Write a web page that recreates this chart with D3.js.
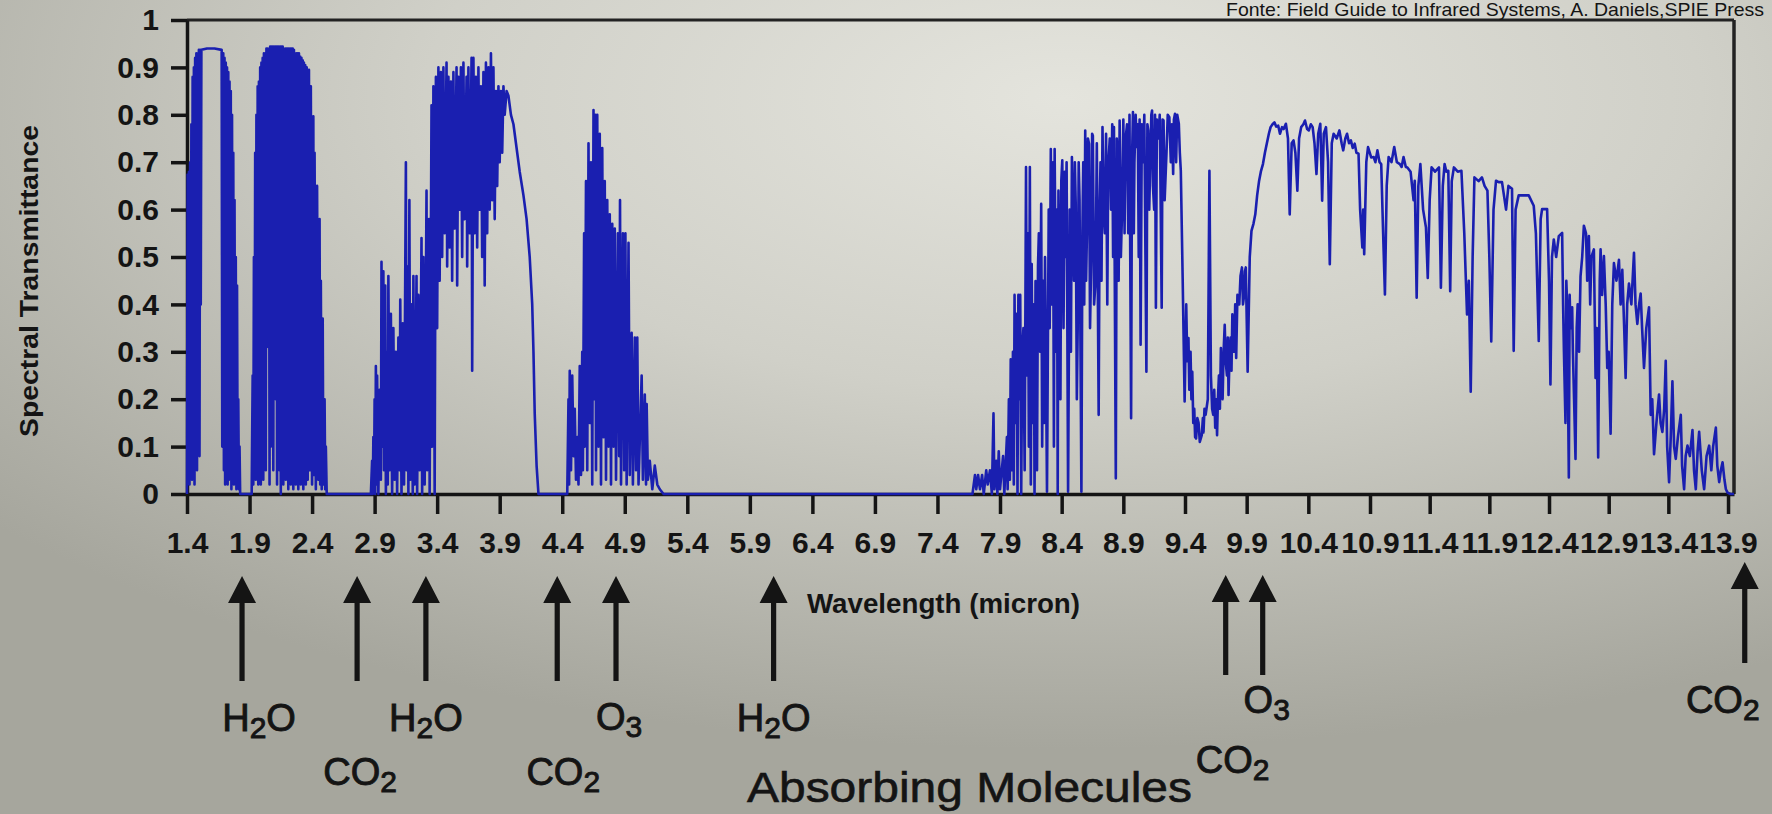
<!DOCTYPE html>
<html><head><meta charset="utf-8">
<script src="https://cdn.jsdelivr.net/npm/d3@7"></script>
<style>html,body{margin:0;padding:0;background:#c6c6be;} svg{display:block;}</style>
</head><body>
<svg id="chart" width="1772" height="814"></svg>
<script>
// ---------------- DATA (wavelength in micron, spectral transmittance) ----------------
const band1 = [[1.40,0],[1.405,0.674],[1.41,0.05],[1.415,0.68],[1.42,0.02],[1.425,0.70],[1.43,0.08],[1.435,0.78],[1.44,0.03],[1.445,0.88],[1.45,0.10],[1.455,0.90],[1.46,0.02],[1.465,0.92],[1.47,0.15],[1.475,0.93],[1.48,0.05],[1.485,0.93],[1.49,0.30],[1.495,0.937],[1.50,0.08],[1.505,0.937],[1.51,0.40],[1.515,0.937],[1.56,0.94],[1.62,0.94],[1.677,0.937],[1.682,0.10],[1.69,0.93],[1.695,0.05],[1.70,0.92],[1.705,0.02],[1.71,0.91],[1.715,0.08],[1.72,0.90],[1.725,0.02],[1.73,0.89],[1.735,0.03],[1.74,0.87],[1.745,0.05],[1.75,0.85],[1.755,0.01],[1.76,0.80],[1.765,0.04],[1.77,0.72],[1.775,0.02],[1.78,0.62],[1.785,0.03],[1.79,0.50],[1.795,0.01],[1.80,0.44],[1.805,0.02],[1.81,0.20],[1.815,0.01],[1.82,0.10],[1.825,0]];

const band2 = [[1.917,0],[1.925,0.25],[1.93,0.02],[1.935,0.50],[1.94,0.05],[1.945,0.72],[1.95,0.03],[1.955,0.80],[1.96,0.10],[1.965,0.86],[1.97,0.02],[1.975,0.87],[1.98,0.08],[1.985,0.90],[1.99,0.02],[1.995,0.91],[2.00,0.10],[2.005,0.92],[2.01,0.03],[2.015,0.93],[2.02,0.30],[2.025,0.93],[2.03,0.05],[2.035,0.94],[2.04,0.59],[2.045,0.94],[2.05,0.31],[2.055,0.94],[2.06,0.02],[2.065,0.944],[2.07,0.10],[2.075,0.944],[2.08,0.46],[2.085,0.944],[2.09,0.05],[2.095,0.944],[2.10,0.46],[2.105,0.944],[2.11,0.20],[2.115,0.944],[2.12,0.02],[2.125,0.944],[2.13,0.40],[2.135,0.944],[2.14,0.05],[2.145,0.944],[2.15,0.0],[2.155,0.944],[2.16,0.10],[2.165,0.944],[2.17,0.02],[2.175,0.94],[2.18,0.30],[2.185,0.94],[2.19,0.03],[2.195,0.94],[2.20,0.06],[2.205,0.94],[2.21,0.01],[2.215,0.94],[2.22,0.15],[2.225,0.94],[2.23,0.02],[2.235,0.94],[2.24,0.05],[2.245,0.94],[2.25,0.01],[2.255,0.937],[2.26,0.08],[2.265,0.93],[2.27,0.02],[2.275,0.93],[2.28,0.04],[2.285,0.93],[2.29,0.01],[2.295,0.93],[2.30,0.05],[2.305,0.923],[2.31,0.02],[2.315,0.92],[2.32,0.06],[2.325,0.915],[2.33,0.01],[2.335,0.91],[2.34,0.04],[2.345,0.905],[2.35,0.02],[2.357,0.90],[2.365,0.03],[2.375,0.895],[2.383,0.05],[2.39,0.86],[2.40,0.02],[2.41,0.797],[2.415,0.04],[2.42,0.72],[2.43,0.01],[2.44,0.65],[2.45,0.03],[2.46,0.58],[2.465,0.02],[2.47,0.45],[2.477,0.01],[2.485,0.37],[2.49,0.02],[2.50,0.20],[2.505,0.01],[2.51,0.10],[2.517,0]];

const band3 = [[2.87,0],[2.88,0.07],[2.885,0.0],[2.89,0.12],[2.895,0.01],[2.90,0.20],[2.905,0.0],[2.91,0.27],[2.915,0.02],[2.92,0.25],[2.93,0.0],[2.94,0.22],[2.95,0.03],[2.955,0.49],[2.96,0.10],[2.97,0.47],[2.975,0.05],[2.985,0.44],[2.99,0.0],[3.00,0.30],[3.005,0.02],[3.01,0.46],[3.02,0.05],[3.03,0.38],[3.04,0.0],[3.05,0.35],[3.06,0.03],[3.07,0.30],[3.08,0.0],[3.09,0.33],[3.10,0.05],[3.105,0.41],[3.115,0.0],[3.125,0.36],[3.135,0.02],[3.15,0.70],[3.155,0.05],[3.165,0.48],[3.17,0.0],[3.178,0.62],[3.185,0.03],[3.195,0.40],[3.205,0.0],[3.21,0.46],[3.22,0.02],[3.235,0.46],[3.24,0.0],[3.25,0.42],[3.26,0.05],[3.275,0.54],[3.28,0.0],[3.29,0.50],[3.30,0.02],[3.315,0.64],[3.32,0.05],[3.335,0.58],[3.34,0.0],[3.355,0.82],[3.36,0.10],[3.37,0.86],[3.38,0.0],[3.39,0.88],[3.40,0.35],[3.41,0.90],[3.42,0.45],[3.43,0.89],[3.44,0.50],[3.45,0.90],[3.46,0.55],[3.475,0.91],[3.48,0.48],[3.49,0.88],[3.50,0.52],[3.51,0.87],[3.52,0.45],[3.53,0.89],[3.54,0.56],[3.555,0.90],[3.56,0.44],[3.57,0.88],[3.58,0.60],[3.59,0.90],[3.60,0.50],[3.61,0.91],[3.62,0.58],[3.635,0.88],[3.64,0.48],[3.65,0.90],[3.66,0.55],[3.675,0.92],[3.68,0.26],[3.69,0.92],[3.70,0.55],[3.71,0.88],[3.72,0.52],[3.73,0.90],[3.74,0.60],[3.75,0.86],[3.76,0.50],[3.77,0.89],[3.78,0.44],[3.79,0.91],[3.80,0.55],[3.81,0.90],[3.82,0.60],[3.83,0.93],[3.84,0.62],[3.85,0.90],[3.86,0.58],[3.87,0.85],[3.88,0.65],[3.89,0.86],[3.90,0.70],[3.91,0.85],[3.92,0.72],[3.93,0.86],[3.94,0.80],[3.955,0.85],[3.97,0.84],[3.99,0.80],[4.01,0.78],[4.04,0.72],[4.06,0.68],[4.09,0.63],[4.115,0.58],[4.14,0.50],[4.16,0.40],[4.17,0.30],[4.18,0.17],[4.195,0.06],[4.21,0]];

const band4 = [[4.44,0],[4.45,0.20],[4.455,0.02],[4.46,0.26],[4.47,0.05],[4.48,0.25],[4.49,0.08],[4.50,0.18],[4.51,0.03],[4.52,0.12],[4.53,0.02],[4.54,0.27],[4.55,0.04],[4.56,0.30],[4.565,0.05],[4.575,0.55],[4.58,0.10],[4.59,0.66],[4.60,0.05],[4.61,0.74],[4.62,0.15],[4.63,0.70],[4.64,0.02],[4.65,0.81],[4.655,0.20],[4.665,0.80],[4.67,0.05],[4.68,0.80],[4.69,0.10],[4.70,0.76],[4.71,0.02],[4.72,0.73],[4.73,0.12],[4.74,0.66],[4.75,0.03],[4.76,0.62],[4.77,0.10],[4.78,0.59],[4.79,0.02],[4.80,0.57],[4.81,0.10],[4.82,0.56],[4.83,0.03],[4.845,0.55],[4.855,0.08],[4.862,0.62],[4.87,0.02],[4.885,0.55],[4.895,0.05],[4.905,0.55],[4.915,0.02],[4.93,0.53],[4.94,0.04],[4.955,0.34],[4.965,0.02],[4.98,0.33],[4.99,0.05],[5.00,0.33],[5.01,0.02],[5.035,0.25],[5.045,0.03],[5.06,0.21],[5.07,0.02],[5.075,0.19],[5.085,0.03],[5.10,0.07],[5.12,0.01],[5.14,0.06],[5.16,0.02],[5.18,0.01],[5.21,0]];

const band5a = [[7.60,0],[7.68,0],[7.70,0.04],[7.71,0.01],[7.725,0.04],[7.74,0.01],[7.757,0.04],[7.77,0],[7.79,0.05],[7.802,0.02],[7.82,0.05],[7.835,0],[7.848,0.17],[7.855,0.01],[7.87,0.07],[7.879,0],[7.89,0.09],[7.90,0.01],[7.925,0.08],[7.935,0],[7.956,0.12],[7.962,0.01],[7.972,0.20],[7.98,0.03],[7.987,0.284],[7.995,0.05],[8.005,0.30],[8.012,0.02],[8.018,0.42],[8.025,0.15],[8.035,0.38],[8.042,0.0],[8.049,0.42],[8.056,0.20],[8.064,0.42],[8.072,0],[8.08,0.30],[8.09,0.35],[8.10,0.05],[8.111,0.69],[8.118,0.25],[8.127,0.55],[8.134,0.10],[8.142,0.69],[8.15,0.02],[8.157,0.485],[8.165,0.15],[8.175,0.40],[8.18,0.0],[8.188,0.449],[8.20,0.05],[8.208,0.48],[8.215,0.55],[8.225,0.30],[8.234,0.612],[8.242,0.10],[8.25,0.45],[8.258,0.15],[8.265,0.50],[8.272,0.30],[8.281,0.005],[8.295,0.60],[8.303,0.35],[8.312,0.728],[8.32,0.40],[8.33,0.70],[8.337,0.10],[8.343,0.728],[8.355,0.30],[8.362,0.60],[8.368,0.0],[8.374,0.640],[8.39,0.20],[8.397,0.66],[8.405,0.704],[8.415,0.35],[8.425,0.68],[8.43,0.50],[8.44,0.70],[8.452,0.005],[8.465,0.60],[8.475,0.30],[8.483,0.711],[8.50,0.45],[8.507,0.70],[8.514,0.612],[8.523,0.20],[8.53,0.35],[8.538,0.70],[8.545,0.62],[8.560,0.005],[8.568,0.55],[8.575,0.70],[8.583,0.40],[8.591,0.767],[8.598,0.45],[8.605,0.55],[8.613,0.75],[8.622,0.739],[8.63,0.35],[8.64,0.50],[8.647,0.76],[8.653,0.756],[8.663,0.40],[8.675,0.45],[8.685,0.74],[8.700,0.167],[8.708,0.60],[8.715,0.70],[8.723,0.45],[8.731,0.774],[8.74,0.60],[8.75,0.55],[8.76,0.76],[8.77,0.40],[8.777,0.689],[8.79,0.75],[8.80,0.60],[8.81,0.78],[8.817,0.50],[8.824,0.774],[8.839,0.033],[8.847,0.75],[8.855,0.70],[8.862,0.45],[8.870,0.788],[8.88,0.50],[8.89,0.60],[8.90,0.79],[8.91,0.55],[8.917,0.746],[8.93,0.78],[8.94,0.55],[8.95,0.80],[8.963,0.160],[8.97,0.70],[8.978,0.806],[8.985,0.55],[8.99,0.70],[9.0,0.80],[9.009,0.732],[9.017,0.78],[9.025,0.50],[9.032,0.79],[9.040,0.315],[9.05,0.78],[9.06,0.70],[9.07,0.80],[9.087,0.258],[9.095,0.78],[9.102,0.767],[9.11,0.60],[9.12,0.72],[9.127,0.80],[9.133,0.809],[9.14,0.65],[9.15,0.60],[9.157,0.80],[9.164,0.393],[9.172,0.79],[9.185,0.75],[9.195,0.80],[9.203,0.60],[9.211,0.393],[9.218,0.79],[9.226,0.788],[9.235,0.62],[9.25,0.72],[9.26,0.80],[9.273,0.795],[9.285,0.70],[9.294,0.78],[9.304,0.675],[9.31,0.79],[9.319,0.802],[9.328,0.70],[9.337,0.80],[9.35,0.781],[9.358,0.72],[9.366,0.682],[9.381,0.456],[9.397,0.195],[9.41,0.40],[9.418,0.28],[9.428,0.329],[9.435,0.22],[9.445,0.30],[9.452,0.20],[9.459,0.258],[9.467,0.15],[9.475,0.18],[9.482,0.12],[9.490,0.117],[9.50,0.16],[9.51,0.15],[9.52,0.11],[9.536,0.124],[9.545,0.16],[9.55,0.13],[9.558,0.18],[9.567,0.167],[9.585,0.20],[9.598,0.682],[9.61,0.25],[9.62,0.18],[9.629,0.167],[9.637,0.22],[9.645,0.14],[9.652,0.20],[9.660,0.124],[9.667,0.20],[9.675,0.25],[9.683,0.18],[9.691,0.308],[9.698,0.22],[9.705,0.20],[9.713,0.30],[9.722,0.357],[9.73,0.28],[9.74,0.25],[9.747,0.33],[9.753,0.209],[9.762,0.30],[9.77,0.33],[9.777,0.26],[9.784,0.379],[9.792,0.30],[9.80,0.30],[9.807,0.40],[9.815,0.287],[9.825,0.42],[9.84,0.40],[9.85,0.46],[9.862,0.478],[9.87,0.40],[9.88,0.42],[9.886,0.47],[9.893,0.478],[9.908,0.258],[9.925,0.50],[9.939,0.555],[9.955,0.57],[9.970,0.590],[9.985,0.63],[10.001,0.661],[10.015,0.68],[10.032,0.696],[10.048,0.72],[10.063,0.739],[10.08,0.76],[10.094,0.774],[10.11,0.78],[10.125,0.784],[10.14,0.775],[10.156,0.777],[10.17,0.76],[10.187,0.774],[10.20,0.77],[10.218,0.781],[10.235,0.75],[10.249,0.590],[10.265,0.74],[10.280,0.746],[10.295,0.72],[10.311,0.640],[10.325,0.75],[10.342,0.774],[10.36,0.78],[10.373,0.788],[10.39,0.77],[10.404,0.767],[10.42,0.78],[10.435,0.774],[10.45,0.74],[10.466,0.675],[10.48,0.76],[10.497,0.781],[10.505,0.70],[10.512,0.619],[10.525,0.76],[10.543,0.774],[10.56,0.70],[10.574,0.485],[10.59,0.74],[10.605,0.760],[10.63,0.75],[10.652,0.767],[10.67,0.74],[10.683,0.725],[10.70,0.75],[10.714,0.760],[10.73,0.74],[10.745,0.746],[10.76,0.73],[10.776,0.739],[10.79,0.72],[10.807,0.718],[10.82,0.60],[10.838,0.520],[10.845,0.60],[10.853,0.506],[10.87,0.70],[10.884,0.732]];

const band5b = [[10.91,0.71],[10.931,0.711],[10.945,0.70],[10.962,0.725],[10.98,0.70],[10.994,0.696],[11.01,0.55],[11.025,0.421],[11.04,0.65],[11.056,0.711],[11.08,0.70],[11.103,0.732],[11.125,0.70],[11.150,0.696],[11.165,0.69],[11.181,0.711],[11.20,0.69],[11.213,0.689],[11.24,0.68],[11.265,0.62],[11.275,0.661],[11.291,0.414],[11.305,0.65],[11.322,0.696],[11.345,0.60],[11.369,0.562],[11.384,0.456],[11.40,0.62],[11.416,0.689],[11.445,0.68],[11.478,0.689],[11.494,0.435],[11.51,0.65],[11.525,0.696],[11.54,0.68],[11.556,0.682],[11.572,0.428],[11.585,0.66],[11.603,0.689],[11.635,0.68],[11.666,0.682],[11.69,0.55],[11.713,0.379],[11.728,0.45],[11.744,0.216],[11.76,0.50],[11.775,0.668],[11.81,0.66],[11.838,0.668],[11.86,0.65],[11.884,0.640],[11.90,0.50],[11.916,0.322],[11.935,0.60],[11.956,0.661],[11.978,0.658],[12.006,0.658],[12.04,0.60],[12.06,0.650],[12.09,0.644],[12.104,0.302],[12.12,0.60],[12.146,0.630],[12.19,0.63],[12.23,0.630],[12.272,0.608],[12.29,0.55],[12.314,0.323],[12.33,0.58],[12.342,0.601],[12.384,0.601],[12.40,0.45],[12.412,0.231],[12.425,0.50],[12.44,0.537],[12.46,0.50],[12.482,0.544],[12.51,0.551],[12.518,0.40],[12.525,0.30],[12.538,0.15],[12.545,0.45],[12.552,0.40],[12.566,0.035],[12.573,0.42],[12.58,0.35],[12.594,0.394],[12.60,0.30],[12.61,0.20],[12.622,0.074],[12.632,0.35],[12.64,0.40],[12.652,0.30],[12.664,0.459],[12.678,0.50],[12.692,0.566],[12.71,0.55],[12.72,0.45],[12.734,0.544],[12.745,0.40],[12.755,0.50],[12.776,0.516],[12.79,0.245],[12.80,0.35],[12.812,0.077],[12.825,0.45],[12.832,0.516],[12.845,0.42],[12.86,0.502],[12.875,0.40],[12.888,0.266],[12.90,0.30],[12.916,0.127],[12.93,0.40],[12.944,0.487],[12.965,0.45],[12.986,0.494],[13.0,0.40],[13.014,0.473],[13.03,0.35],[13.042,0.245],[13.055,0.40],[13.07,0.444],[13.09,0.40],[13.112,0.509],[13.125,0.40],[13.14,0.359],[13.155,0.40],[13.168,0.423],[13.18,0.35],[13.196,0.266],[13.215,0.35],[13.238,0.394],[13.252,0.167],[13.265,0.20],[13.28,0.084],[13.30,0.15],[13.322,0.210],[13.335,0.15],[13.35,0.131],[13.365,0.18],[13.378,0.281],[13.39,0.10],[13.406,0.025],[13.42,0.12],[13.434,0.238],[13.448,0.10],[13.462,0.074],[13.48,0.12],[13.504,0.167],[13.515,0.06],[13.532,0.010],[13.545,0.08],[13.56,0.102],[13.58,0.08],[13.602,0.135],[13.615,0.05],[13.63,0.010],[13.645,0.09],[13.658,0.131],[13.68,0.05],[13.70,0.010],[13.72,0.08],[13.742,0.102],[13.76,0.05],[13.775,0.10],[13.798,0.140],[13.81,0.06],[13.826,0.025],[13.84,0.05],[13.854,0.067],[13.87,0.03],[13.882,0.010],[13.896,0.003],[13.92,0],[13.95,0]];

const xTickValues = [1.4,1.9,2.4,2.9,3.4,3.9,4.4,4.9,5.4,5.9,6.4,6.9,7.4,7.9,8.4,8.9,9.4,9.9,10.4,10.9,11.4,11.9,12.4,12.9,13.4,13.9];
const yTickValues = [0,0.1,0.2,0.3,0.4,0.5,0.6,0.7,0.8,0.9,1];

const arrowWavelengths = [1.84, 2.76, 3.31, 4.36, 4.83, 6.09, 9.73, 10.03, 14.04];
const arrowMolecules   = ["H2O","CO2","H2O","CO2","O3","H2O","CO2","O3","CO2"];

const yTitle = "Spectral Transmittance";
const xTitle = "Wavelength (micron)";
const bottomTitle = "Absorbing Molecules";
const sourceNote = "Fonte: Field Guide to Infrared Systems, A. Daniels,SPIE Press";

// ---------------- LAYOUT ----------------
const W = 1772, H = 814;
const FONT = "'Liberation Sans', Arial, Helvetica, sans-serif";
const INK = "#141414";
const BLUE = "#1a1fb0";

// label layout for each arrow: [label dx, label baseline, arrow tip y, arrow bottom y]
const arrowLayout = [
  [17, 731, 576, 681], [3, 785, 576, 681], [0, 731, 576, 681], [6, 785, 576, 681],
  [3, 730, 576, 681], [0, 731, 576, 681], [7, 773, 575, 675], [4, 713, 575, 675],
  [-22, 713, 562, 663]
];

const svg = d3.select("#chart");
const defs = svg.append("defs");
const grad = defs.append("radialGradient").attr("id","paper")
  .attr("cx","0.60").attr("cy","0.12").attr("r","0.80");
grad.append("stop").attr("offset","0").attr("stop-color","#e4e4dd");
grad.append("stop").attr("offset","0.45").attr("stop-color","#d0d0c8");
grad.append("stop").attr("offset","1").attr("stop-color","#a6a69d");
svg.append("rect").attr("width",W).attr("height",H).attr("fill","url(#paper)");

const x = d3.scaleLinear().domain([1.4, 7.9, 10.9, 13.95]).range([187, 1000, 1370, 1734]);
const y = d3.scaleLinear().domain([0, 1]).range([494, 20]);

// frame (top & right)
svg.append("line").attr("x1", x(1.4)).attr("x2", x(13.95)).attr("y1", y(1)).attr("y2", y(1))
  .attr("stroke", "#222").attr("stroke-width", 3);
svg.append("line").attr("x1", x(13.95)).attr("x2", x(13.95)).attr("y1", y(1)).attr("y2", y(0))
  .attr("stroke", "#222").attr("stroke-width", 3.5);

// axes
const gx = svg.append("g").attr("transform", `translate(0,${y(0)})`)
  .call(d3.axisBottom(x).tickValues(xTickValues).tickFormat(d3.format(".1f"))
    .tickSize(20).tickSizeOuter(0).tickPadding(18));
const gy = svg.append("g").attr("transform", `translate(${x(1.4)},0)`)
  .call(d3.axisLeft(y).tickValues(yTickValues).tickFormat(d => String(d))
    .tickSize(16).tickSizeOuter(0).tickPadding(12));
[gx, gy].forEach(g => {
  g.select(".domain").attr("stroke", INK).attr("stroke-width", 3.5);
  g.selectAll(".tick line").attr("stroke", INK).attr("stroke-width", 3.5);
  g.selectAll(".tick text").attr("fill", INK).style("font-family", FONT)
    .style("font-size", "30px").style("font-weight", "bold");
});

// spectrum line
const series = [].concat(band1, band2, band3, band4, band5a, band5b);
svg.append("path").datum(series)
  .attr("fill", "none").attr("stroke", BLUE).attr("stroke-width", 2.6)
  .attr("stroke-linejoin", "round")
  .attr("d", d3.line().x(d => x(d[0])).y(d => y(d[1])));

// axis titles
svg.append("text").attr("transform", `translate(38,281) rotate(-90)`)
  .attr("text-anchor", "middle").attr("fill", INK)
  .attr("textLength", 312).attr("lengthAdjust", "spacingAndGlyphs")
  .style("font-family", FONT).style("font-size", "26px").style("font-weight", "bold")
  .text(yTitle);
svg.append("text").attr("x", 807).attr("y", 613).attr("fill", INK)
  .attr("textLength", 273).attr("lengthAdjust", "spacingAndGlyphs")
  .style("font-family", FONT).style("font-size", "27px").style("font-weight", "bold")
  .text(xTitle);
svg.append("text").attr("x", 747).attr("y", 802).attr("fill", INK)
  .attr("textLength", 445).attr("lengthAdjust", "spacingAndGlyphs")
  .attr("stroke", INK).attr("stroke-width", 0.6)
  .style("font-family", FONT).style("font-size", "42px")
  .text(bottomTitle);

// source note (top right)
svg.append("text").attr("x", 1226).attr("y", 16).attr("fill", INK)
  .attr("textLength", 538).attr("lengthAdjust", "spacingAndGlyphs")
  .style("font-family", FONT).style("font-size", "19px")
  .text(sourceNote);

// arrows + molecule labels
const arrows = svg.append("g");
arrowWavelengths.forEach((wl, i) => {
  const [dx, base, tip, bottom] = arrowLayout[i];
  const cx = x(wl);
  const headLen = 27, headHalf = 14, shaftHalf = 2.6;
  const p = d3.path();
  p.moveTo(cx, tip);
  p.lineTo(cx + headHalf, tip + headLen);
  p.lineTo(cx + shaftHalf, tip + headLen);
  p.lineTo(cx + shaftHalf, bottom);
  p.lineTo(cx - shaftHalf, bottom);
  p.lineTo(cx - shaftHalf, tip + headLen);
  p.lineTo(cx - headHalf, tip + headLen);
  p.closePath();
  arrows.append("path").attr("d", p.toString()).attr("fill", INK);

  const t = arrows.append("text").attr("x", cx + dx).attr("y", base)
    .attr("text-anchor", "middle").attr("fill", INK)
    .attr("stroke", INK).attr("stroke-width", 0.9)
    .style("font-family", FONT).style("font-size", "38px");
  const parts = arrowMolecules[i].match(/[A-Z][a-z]?|\d+/g);
  let sub = false;
  parts.forEach(part => {
    if (/\d/.test(part)) {
      t.append("tspan").attr("dy", 7).style("font-size", "30px").text(part);
      sub = true;
    } else {
      t.append("tspan").attr("dy", sub ? -7 : 0).text(part);
      sub = false;
    }
  });
});
</script>
</body></html>
